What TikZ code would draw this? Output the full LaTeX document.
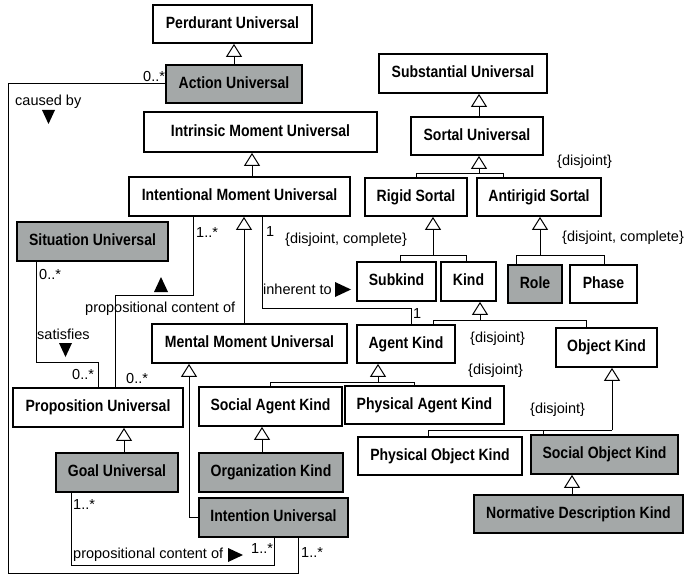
\documentclass[tikz,border=0pt]{standalone}
\usepackage{fontspec}
\setmainfont{Liberation Sans}
\newfontfamily\boxfont[FakeStretch=0.86]{Liberation Sans}
\newfontfamily\labfont{Liberation Sans}
\usetikzlibrary{arrows.meta}
\definecolor{umlgray}{RGB}{164,168,168}
\begin{document}
\begin{tikzpicture}[x=1pt,y=-1pt,
  box/.style={draw, line width=1.8pt, fill=white, inner sep=0pt, anchor=center,
    text height=11.7pt, text depth=3pt,
    font=\boxfont\bfseries\fontsize{16.3}{18}\selectfont},
  gbox/.style={box, fill=umlgray},
  rect/.style args={#1/#2/#3/#4}{minimum width={(#3)-(#1)}, minimum height={(#4)-(#2)},
    at={({((#1)+(#3))/2},{((#2)+(#4))/2})}},
  lab/.style={inner sep=0pt, anchor=base west, font=\labfont\fontsize{14.5}{16}\selectfont},
  conn/.style={line width=1pt},
  gen/.style={line width=1pt, -{Triangle[open, length=13pt, width=16pt]}},
  dirmark/.style={fill=black}
]
\useasboundingbox[fill=white] (0,0) rectangle (688,575);

% ---- boxes ----
\node[box,  rect=153/5/312/43]    (perd)   {Perdurant Universal};
\node[gbox, rect=166/65/302/103]  (act)    {Action Universal};
\node[box,  rect=144/112/377/152] (intr)   {Intrinsic Moment Universal};
\node[box,  rect=129/177/350/216] (intent) {Intentional Moment Universal};
\node[box,  rect=379/54/547/93]   (subst)  {Substantial Universal};
\node[box,  rect=411/117/543/155] (sortal) {Sortal Universal};
\node[box,  rect=365/178/467/216] (rigid)  {Rigid Sortal};
\node[box,  rect=477/178/601/216] (anti)   {Antirigid Sortal};
\node[box,  rect=357/262/436/301] (subkind){Subkind};
\node[box,  rect=441/262/496/301] (kind)   {Kind};
\node[gbox, rect=508/265/562/303] (role)   {Role};
\node[box,  rect=570/265/637/303] (phase)  {Phase};
\node[box,  rect=357/325/455/363] (agent)  {Agent Kind};
\node[box,  rect=556/328/657/367] (objk)   {Object Kind};
\node[box,  rect=199/387/342/426] (sak)    {Social Agent Kind};
\node[box,  rect=345/386/504/424] (pak)    {Physical Agent Kind};
\node[gbox, rect=199/453/343/492] (org)    {Organization Kind};
\node[box,  rect=358/437/522/475] (pok)    {Physical Object Kind};
\node[gbox, rect=531/435/678/474] (sok)    {Social Object Kind};
\node[gbox, rect=474/495/683/533] (ndk)    {Normative Description Kind};
\node[gbox, rect=17/222/168/261]  (sit)    {Situation Universal};
\node[box,  rect=152/324/347/363] (mental) {Mental Moment Universal};
\node[box,  rect=13/388/183/427]  (prop)   {Proposition Universal};
\node[gbox, rect=56/453/178/492]  (goal)   {Goal Universal};
\node[gbox, rect=199/498/348/537] (intn)   {Intention Universal};

% ---- helper coordinates ----
\coordinate (g2) at (252,0);
\coordinate (g3) at (244,0);
\coordinate (g4) at (262,0);
\coordinate (g5) at (572,0);
\coordinate (g6) at (124,0);
\coordinate (g7) at (189,0);
\coordinate (g8) at (479,0);

% ---- simple generalizations ----
\draw[gen] (act.north) -- (act.north |- perd.south);
\draw[gen] (g2 |- intent.north) -- (g2 |- intr.south);
\draw[gen] (g3 |- mental.north) -- (g3 |- intent.south);
\draw[gen] (g4 |- org.north) -- (g4 |- sak.south);
\draw[gen] (g5 |- ndk.north) -- (g5 |- sok.south);
\draw[gen] (g6 |- goal.north) -- (g6 |- prop.south);
\draw[gen] (intn.west) -| (g7 |- mental.south);
\draw[gen] (g8 |- sortal.north) -- (g8 |- subst.south);

% ---- generalization sets ----
\coordinate (f1) at (479,173); \coordinate (f1a) at (416,173); \coordinate (f1b) at (503,173);
\draw[gen] (f1) -- (f1 |- sortal.south);
\draw[conn] (f1a |- rigid.north) -- (f1a) -- (f1b) -- (f1b |- anti.north);

\coordinate (f2) at (433,255); \coordinate (f2a) at (400,255); \coordinate (f2b) at (466,255);
\draw[gen] (f2) -- (f2 |- rigid.south);
\draw[conn] (f2a |- subkind.north) -- (f2a) -- (f2b) -- (f2b |- kind.north);

\coordinate (f3) at (540,255); \coordinate (f3a) at (516,255); \coordinate (f3b) at (604,255);
\draw[gen] (f3) -- (f3 |- anti.south);
\draw[conn] (f3a |- role.north) -- (f3a) -- (f3b) -- (f3b |- phase.north);

\coordinate (f4) at (480,320); \coordinate (f4a) at (433,320); \coordinate (f4b) at (586,320);
\draw[gen] (f4) -- (f4 |- kind.south);
\draw[conn] (f4a |- agent.north) -- (f4a) -- (f4b) -- (f4b |- objk.north);

\coordinate (f5) at (378,382); \coordinate (f5a) at (270,382); \coordinate (f5b) at (414,382);
\draw[gen] (f5) -- (f5 |- agent.south);
\draw[conn] (f5a |- sak.north) -- (f5a) -- (f5b) -- (f5b |- pak.north);

\coordinate (f6) at (612,430); \coordinate (f6a) at (428,430); \coordinate (f6b) at (543,430);
\draw[gen] (f6) -- (f6 |- objk.south);
\draw[conn] (f6a |- pok.north) -- (f6a) -- (f6);
\draw[conn] (f6b) -- (f6b |- sok.north);

% ---- associations ----
\coordinate (cb) at (8,573); \coordinate (cbr) at (298,573);
\draw[conn] (act.west) -| (cb) -- (cbr) -- (cbr |- intn.south);

\coordinate (s1) at (36,362); \coordinate (s2) at (98,362);
\draw[conn] (s1 |- sit.south) -- (s1) -- (s2) -- (s2 |- prop.north);

\coordinate (p1) at (115,295); \coordinate (p2) at (193,295);
\draw[conn] (p1 |- prop.north) -- (p1) -- (p2) -- (p2 |- intent.south);

\coordinate (i1) at (262,308); \coordinate (i2) at (411,308);
\draw[conn] (i1 |- intent.south) -- (i1) -- (i2) -- (i2 |- agent.north);

\coordinate (q1) at (71,565); \coordinate (q2) at (274,565);
\draw[conn] (q1 |- goal.south) -- (q1) -- (q2) -- (q2 |- intn.south);

% ---- labels ----
\node[lab] (l1)  at (143,82)  {0..*};
\node[lab] (l2)  at (15,106)  {caused by};
\node[lab] (l3)  at (301,557) {1..*};
\node[lab] (l4)  at (39,279)  {0..*};
\node[lab] (l5)  at (37,339)  {satisfies};
\node[lab] (l6)  at (72,379)  {0..*};
\node[lab] (l7)  at (126,383) {0..*};
\node[lab] (l8)  at (85,312)  {propositional content of};
\node[lab] (l9)  at (196,237) {1..*};
\node[lab] (l10) at (266,236) {1};
\node[lab] (l11) at (263,294) {inherent to};
\node[lab] (l12) at (285,243) {\{disjoint, complete\}};
\node[lab] (l13) at (413,318) {1};
\node[lab] (l14) at (557,165) {\{disjoint\}};
\node[lab] (l15) at (562,241) {\{disjoint, complete\}};
\node[lab] (l16) at (470,342) {\{disjoint\}};
\node[lab] (l17) at (468,374) {\{disjoint\}};
\node[lab] (l18) at (530,413) {\{disjoint\}};
\node[lab] (l19) at (73,509)  {1..*};
\node[lab] (l20) at (73,558)  {propositional content of};
\node[lab] (l21) at (251,553) {1..*};

% ---- direction markers ----
\fill[dirmark] (42,110) -- (55,110) -- (48.5,124) -- cycle;
\fill[dirmark] (59,343) -- (72,343) -- (65.5,357) -- cycle;
\fill[dirmark] (154,292) -- (168,292) -- (161,277) -- cycle;
\fill[dirmark] (335,282) -- (335,297) -- (351,289.5) -- cycle;
\fill[dirmark] (228,548) -- (228,562) -- (243,555) -- cycle;
\end{tikzpicture}
\end{document}
